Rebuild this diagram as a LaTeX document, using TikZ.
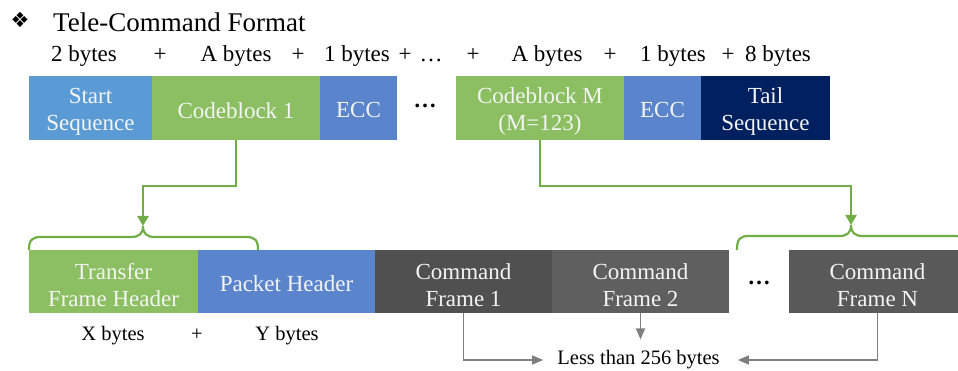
\documentclass[tikz,border=0pt]{standalone}
\usepackage{fontspec}
\setmainfont{Liberation Serif}
\newfontfamily\symfont{DejaVu Sans}
\usetikzlibrary{arrows.meta}

\definecolor{startblue}{HTML}{5B9BD5}
\definecolor{blockgreen}{HTML}{8CBF62}
\definecolor{eccblue}{HTML}{5A84CB}
\definecolor{tailnavy}{HTML}{002060}
\definecolor{framegrayA}{HTML}{505050}
\definecolor{framegrayB}{HTML}{5F5F5F}
\definecolor{framegrayC}{HTML}{595959}
\definecolor{linkgreen}{HTML}{70AD47}
\definecolor{linkgray}{HTML}{7F7F7F}
\definecolor{boxtext}{HTML}{F4F4F4}

\tikzset{
  field/.style={anchor=north west, inner sep=0pt, outer sep=0pt},
  fieldtext/.style={text=boxtext, align=center, inner sep=0pt,
    font=\fontsize{23}{27}\selectfont, yshift=-3.5pt},
  lbl/.style={anchor=base, inner sep=0pt, font=\fontsize{23}{27}\selectfont},
  smalllbl/.style={anchor=base, inner sep=0pt, font=\fontsize{20.5}{24}\selectfont},
  dots/.style={anchor=base, inner sep=0pt, font=\bfseries\fontsize{23}{27}\selectfont},
  greenlink/.style={draw=linkgreen, line width=2.2pt,
    -{Triangle[width=11pt,length=10pt]}},
  greenbrace/.style={draw=linkgreen, line width=2.2pt},
  graylink/.style={draw=linkgray, line width=1.5pt,
    -{Triangle[width=9pt,length=11pt]}},
}

\begin{document}
\begin{tikzpicture}[x=1pt,y=-1pt]
\useasboundingbox (0,0) rectangle (958,371);

% heading
\node[inner sep=0pt, font=\symfont\fontsize{21}{24}\selectfont] (bullet) at (20,20) {❖};
\node[anchor=base west, inner sep=0pt, font=\fontsize{27}{32}\selectfont] (title) at (53,32) {Tele-Command Format};

% byte counts of the upper frame
\node[lbl] (b1) at (84,62) {2 bytes};
\node[lbl] (p1) at (160,62) {+};
\node[lbl] (b2) at (236,62) {A bytes};
\node[lbl] (p2) at (298,62) {+};
\node[lbl] (b3) at (357,62) {1 bytes};
\node[lbl] (p3) at (405,62) {+};
\node[lbl] (d0) at (431,62) {…};
\node[lbl] (p4) at (473,62) {+};
\node[lbl] (b4) at (547,62) {A bytes};
\node[lbl] (p5) at (610,62) {+};
\node[lbl] (b5) at (673,62) {1 bytes};
\node[lbl] (p6) at (728,62) {+};
\node[lbl] (b6) at (778,62) {8 bytes};

% upper frame
\node[field, fill=startblue, minimum width=123pt, minimum height=64pt,
  label={[fieldtext]center:Start\\Sequence}] (start) at (29,76) {};
\node[field, fill=blockgreen, minimum width=168pt, minimum height=64pt,
  label={[fieldtext, yshift=1pt]center:Codeblock 1}] (cb1) at (152,76) {};
\node[field, fill=eccblue, minimum width=77pt, minimum height=64pt,
  label={[fieldtext, yshift=1pt]center:ECC}] (ecc1) at (320,76) {};
\node[dots] (dtop) at (425,108) {…};
\node[field, fill=blockgreen, minimum width=168pt, minimum height=64pt,
  label={[fieldtext]center:Codeblock M\\(M=123)}] (cbm) at (456,76) {};
\node[field, fill=eccblue, minimum width=77pt, minimum height=64pt,
  label={[fieldtext, yshift=1pt]center:ECC}] (ecc2) at (624,76) {};
\node[field, fill=tailnavy, minimum width=129pt, minimum height=64pt,
  label={[fieldtext]center:Tail\\Sequence}] (tail) at (701,76) {};

% lower frame
\node[field, fill=blockgreen, minimum width=169pt, minimum height=63pt,
  label={[fieldtext]center:Transfer\\Frame Header}] (tfh) at (29,250) {};
\node[field, fill=eccblue, minimum width=177pt, minimum height=63pt,
  label={[fieldtext, yshift=1pt]center:Packet Header}] (ph) at (198,250) {};
\node[field, fill=framegrayA, minimum width=177pt, minimum height=63pt,
  label={[fieldtext]center:Command\\Frame 1}] (cf1) at (375,250) {};
\node[field, fill=framegrayB, minimum width=177pt, minimum height=63pt,
  label={[fieldtext]center:Command\\Frame 2}] (cf2) at (552,250) {};
\node[dots] (dbot) at (759,284) {…};
\node[field, fill=framegrayC, minimum width=177pt, minimum height=63pt,
  label={[fieldtext]center:Command\\Frame N}] (cfn) at (789,250) {};

% byte counts of the lower frame
\node[smalllbl] (bx) at (113,340) {X bytes};
\node[smalllbl] (px) at (197,340) {+};
\node[smalllbl] (by) at (287,340) {Y bytes};

% braces
\coordinate (ltip) at (143,226);
\coordinate (rtip) at (851,225);
\draw[greenbrace] (29,250) .. controls (29,240) and (32,237) .. (41,237)
  -- (131,237) .. controls (139,237) and (143,234) .. (ltip)
  .. controls (143,234) and (147,237) .. (155,237)
  -- (246,237) .. controls (255,237) and (258,240) .. (258,250);
\draw[greenbrace] (737,250) .. controls (737,239) and (740,236) .. (749,236)
  -- (839,236) .. controls (847,236) and (851,233) .. (rtip)
  .. controls (851,233) and (855,236) .. (863,236)
  -- (954,236) .. controls (963,236) and (966,239) .. (966,250);

% expansion links
\draw[greenlink] (cb1.south) -- ++(0,46) -| (ltip);
\draw[greenlink] (cbm.south) -- ++(0,46) -| (rtip);

% size limit
\node[smalllbl, anchor=center] (less) at (638.5,360) {Less than 256 bytes};
\draw[graylink, shorten >=14pt] (cf1.south) |- (less.west);
\draw[graylink, shorten >=11pt] (cf2.south) -- (cf2.south |- less.north);
\draw[graylink, shorten >=18pt] (cfn.south) |- (less.east);
\end{tikzpicture}
\end{document}
